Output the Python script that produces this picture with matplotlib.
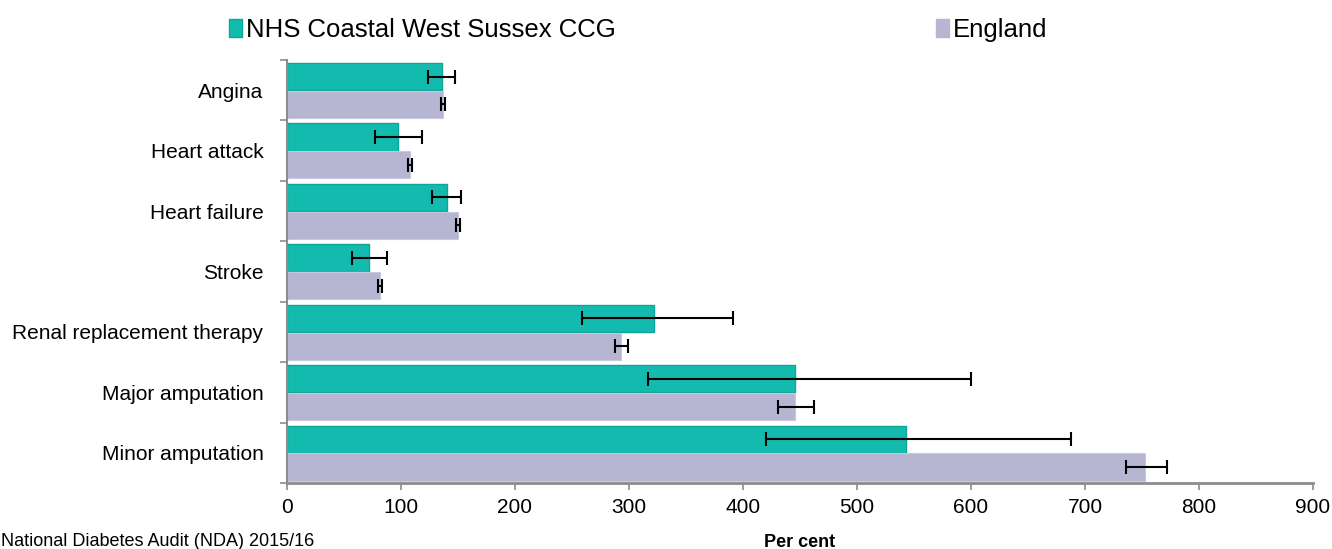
import matplotlib.pyplot as plt
import numpy as np
from matplotlib.patches import Patch

plt.rcParams['font.family'] = ['Liberation Sans', 'DejaVu Sans']

categories = ['Angina', 'Heart attack', 'Heart failure', 'Stroke',
              'Renal replacement therapy', 'Major amputation', 'Minor amputation']
ccg = [136, 97, 140, 72, 322, 446, 543]
ccg_lo = [124, 77, 127, 57, 259, 317, 420]
ccg_hi = [147, 118, 153, 88, 391, 600, 688]
eng = [137, 108, 150, 82, 293, 446, 753]
eng_lo = [135.5, 106.5, 148.5, 80, 288, 431, 736]
eng_hi = [138.5, 110, 151.5, 83.5, 299, 462, 772]
xticks = [0, 100, 200, 300, 400, 500, 600, 700, 800, 900]

teal = '#13BBAF'
teal_edge = '#0EA597'
lav = '#B6B6D3'

fig = plt.figure(figsize=(13.32, 5.49), dpi=100)
ax = fig.add_axes([287 / 1332, 1 - 483 / 549, (1313 - 287) / 1332, (483 - 60) / 549])

n = len(categories)
y = np.arange(n)
h = 0.45
ccg_err = [np.array(ccg) - np.array(ccg_lo), np.array(ccg_hi) - np.array(ccg)]
eng_err = [np.array(eng) - np.array(eng_lo), np.array(eng_hi) - np.array(eng)]

ax.barh(y - h / 2, ccg, height=h, color=teal, edgecolor=teal_edge, linewidth=1)
ax.barh(y + h / 2 + 0.01, eng, height=h, color=lav, edgecolor='#C8C8DE', linewidth=0.8)
ax.errorbar(ccg, y - h / 2, xerr=ccg_err, fmt='none', ecolor='black',
            elinewidth=1.5, capsize=5, capthick=1.5)
ax.errorbar(eng, y + h / 2 + 0.01, xerr=eng_err, fmt='none', ecolor='black',
            elinewidth=1.5, capsize=5, capthick=1.5)

ax.set_ylim(n - 0.5, -0.5)
ax.set_xlim(0, 900)
ax.set_xticks(xticks)
ax.set_xticklabels([str(t) for t in xticks], fontsize=15)
ax.set_yticks(np.arange(n + 1) - 0.5, minor=False)
ax.set_yticklabels([])
ax.set_yticks(y, minor=True)
ax.set_yticklabels(categories, minor=True, fontsize=15)
ax.tick_params(axis='y', which='minor', length=0, pad=17)
ax.tick_params(axis='y', which='major', length=5, color='#8C8C8C', width=1.2)
ax.tick_params(axis='x', length=5, color='#8C8C8C', width=1.2, pad=6)

for s in ['top', 'right']:
    ax.spines[s].set_visible(False)
ax.spines['left'].set_color('#8C8C8C')
ax.spines['left'].set_linewidth(1.5)
ax.spines['bottom'].set_color('#8C8C8C')
ax.spines['bottom'].set_linewidth(2)

ax.set_xlabel('Per cent', fontsize=13, fontweight='bold', labelpad=12)

h1 = Patch(facecolor=teal, edgecolor=teal_edge)
h2 = Patch(facecolor=lav, edgecolor=lav)
kw = dict(frameon=False, fontsize=18.5, handlelength=0.5, handleheight=0.75,
          handletextpad=0.15, borderaxespad=0, borderpad=0)
fig.legend([h1], ['NHS Coastal West Sussex CCG'], loc='center left',
           bbox_to_anchor=(229 / 1332, 1 - 30 / 549), **kw)
fig.legend([h2], ['England'], loc='center left',
           bbox_to_anchor=(936 / 1332, 1 - 30 / 549), **kw)

fig.text(0.0005, 1 - 541 / 549, 'National Diabetes Audit (NDA) 2015/16', fontsize=13,
         va='center', ha='left')

fig.savefig('out.png', dpi=100)
